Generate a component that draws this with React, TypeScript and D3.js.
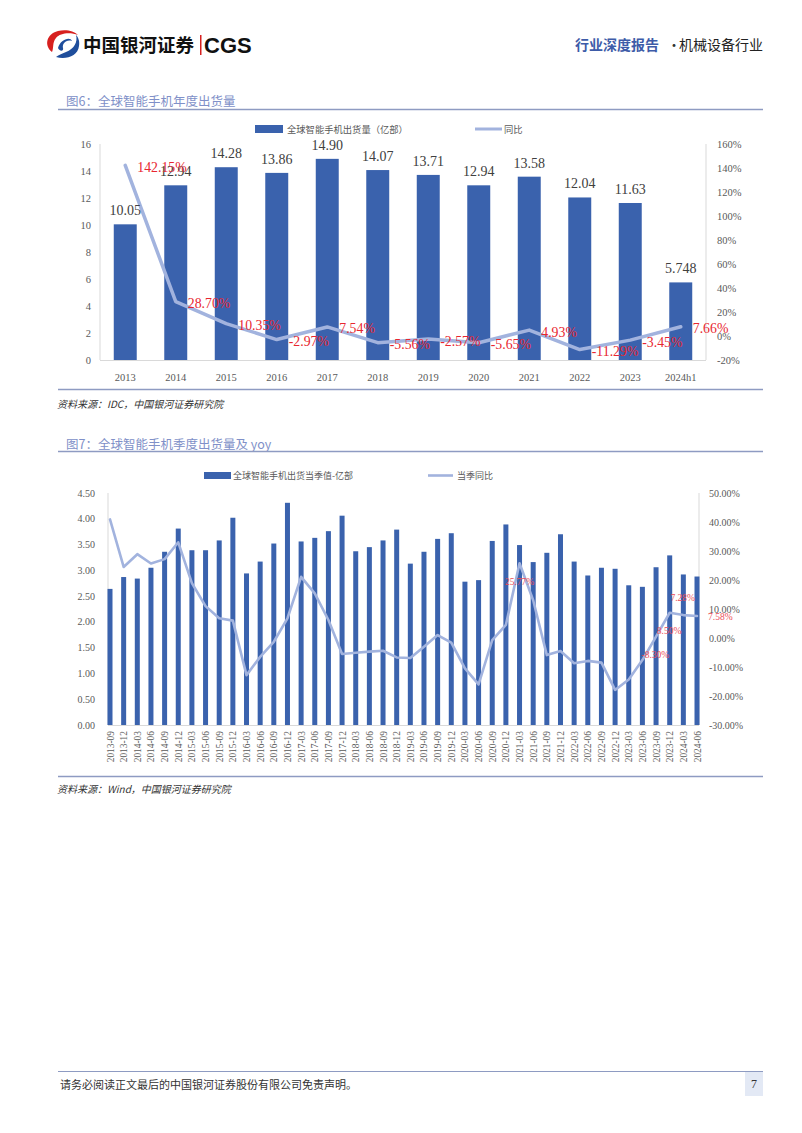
import React, { useEffect, useRef } from 'react';
import * as d3 from 'd3';

const years = ['2013', '2014', '2015', '2016', '2017', '2018', '2019', '2020', '2021', '2022', '2023', '2024h1'];
const annualShipments = [10.05, 12.94, 14.28, 13.86, 14.9, 14.07, 13.71, 12.94, 13.58, 12.04, 11.63, 5.748];
const annualShipmentLabels = ['10.05', '12.94', '14.28', '13.86', '14.90', '14.07', '13.71', '12.94', '13.58', '12.04', '11.63', '5.748'];
const annualYoY = [142.15, 28.7, 10.35, -2.97, 7.54, -5.56, -2.57, -5.65, 4.93, -11.29, -3.45, 7.66];
const annualYoYLabels = ['142.15%', '28.70%', '10.35%', '-2.97%', '7.54%', '-5.56%', '-2.57%', '-5.65%', '4.93%', '-11.29%', '-3.45%', '7.66%'];
const annualLeftTicks = [0, 2, 4, 6, 8, 10, 12, 14, 16];
const annualRightTicks = [-20, 0, 20, 40, 60, 80, 100, 120, 140, 160];

const quarters = [
  '2013-09', '2013-12',
  '2014-03', '2014-06', '2014-09', '2014-12',
  '2015-03', '2015-06', '2015-09', '2015-12',
  '2016-03', '2016-06', '2016-09', '2016-12',
  '2017-03', '2017-06', '2017-09', '2017-12',
  '2018-03', '2018-06', '2018-09', '2018-12',
  '2019-03', '2019-06', '2019-09', '2019-12',
  '2020-03', '2020-06', '2020-09', '2020-12',
  '2021-03', '2021-06', '2021-09', '2021-12',
  '2022-03', '2022-06', '2022-09', '2022-12',
  '2023-03', '2023-06', '2023-09', '2023-12',
  '2024-03', '2024-06',
];
const quarterlyShipments = [
  2.64, 2.87,
  2.84, 3.05, 3.36, 3.81,
  3.39, 3.39, 3.58, 4.02,
  2.94, 3.17, 3.52, 4.31,
  3.56, 3.63, 3.76, 4.06,
  3.37, 3.45, 3.58, 3.79,
  3.13, 3.36, 3.61, 3.72,
  2.78, 2.81, 3.57, 3.89,
  3.49, 3.16, 3.34, 3.70,
  3.17, 2.90, 3.05, 3.03,
  2.71, 2.68, 3.06, 3.29,
  2.92, 2.88,
];
const quarterlyYoY = [
  40.9, 24.5,
  28.9, 25.7, 27.2, 33.0,
  18.9, 11.0, 6.8, 6.0,
  -12.8, -6.5, -1.3, 6.8,
  21.1, 15.4, 6.2, -5.5,
  -5.1, -4.7, -4.4, -6.7,
  -6.9, -3.0, 1.0, -1.6,
  -10.5, -16.0, -0.7, 4.5,
  25.77, 13.0, -5.9, -4.5,
  -8.7, -7.9, -8.5, -17.9,
  -14.3, -7.6, 0.5, 8.7,
  7.9, 7.58,
];
const quarterlyLabelIndex = [30, 39, 40, 41, 43];
const quarterlyLabelText = ['25.77%', '-8.30%', '8.50%', '7.28%', '7.58%'];
const quarterlyLeftTicks = [0, 0.5, 1, 1.5, 2, 2.5, 3, 3.5, 4, 4.5];
const quarterlyRightTicks = [-30, -20, -10, 0, 10, 20, 30, 40, 50];

const BAR = '#3a62ad';
const LINE = '#a2b3de';
const RED = '#e8262f';
const AXIS_TEXT = '#595959';
const SERIF = '"Liberation Serif", "DejaVu Serif", serif';
const CJK = '"Noto Sans CJK SC", sans-serif';

type Sel = d3.Selection<SVGSVGElement, unknown, null, undefined>;

function drawHeader(svg: Sel) {
  const g = svg.append('g');
  g.append('path')
    .attr('d', 'M52,52 C44,46 46,34 58,31 C66,29 74,31 78,35 C70,32 60,33 56,38 C52,43 54,48 52,52 Z')
    .attr('fill', '#d7201f');
  g.append('path')
    .attr('d', 'M56,57 C66,60 78,56 79,46 C80,41 78,37 76,35 C78,42 74,49 66,52 C62,54 58,55 56,57 Z')
    .attr('fill', '#1f4e9c');
  g.append('path')
    .attr('d', 'M58,48 C60,40 70,36 72,41 C66,39 62,44 63,48 C64,51 60,52 58,48 Z')
    .attr('fill', '#1f4e9c');
  g.append('text').attr('x', 83).attr('y', 52).attr('font-family', CJK).attr('font-weight', 700)
    .attr('font-size', 18.5).attr('fill', '#111').text('中国银河证券');
  g.append('rect').attr('x', 200).attr('y', 35).attr('width', 1.5).attr('height', 20).attr('fill', '#d7201f');
  g.append('text').attr('x', 204).attr('y', 53).attr('font-family', '"Liberation Sans", Arial, sans-serif')
    .attr('font-weight', 700).attr('font-size', 22).attr('fill', '#111').text('CGS');
  g.append('text').attr('x', 575).attr('y', 50).attr('font-family', CJK).attr('font-weight', 700)
    .attr('font-size', 14).attr('fill', '#3d5ba8').text('行业深度报告');
  g.append('text').attr('x', 667).attr('y', 50).attr('font-family', CJK)
    .attr('font-size', 14).attr('fill', '#333').text('·');
  g.append('text').attr('x', 679).attr('y', 50).attr('font-family', CJK)
    .attr('font-size', 14).attr('fill', '#222').text('机械设备行业');
}

function drawAnnual(svg: Sel) {
  const g = svg.append('g');
  g.append('text').attr('x', 66).attr('y', 100).attr('dominant-baseline', 'central')
    .attr('font-family', CJK).attr('font-size', 12.5).attr('fill', '#8090c8').text('图6：全球智能手机年度出货量');
  g.append('line').attr('x1', 58).attr('x2', 763).attr('y1', 109.5).attr('y2', 109.5).attr('stroke', '#8e9bc2').attr('stroke-width', 1.5);
  g.append('line').attr('x1', 58).attr('x2', 763).attr('y1', 389.5).attr('y2', 389.5).attr('stroke', '#8e9bc2').attr('stroke-width', 1.5);
  g.append('text').attr('x', 57).attr('y', 403).attr('dominant-baseline', 'central')
    .attr('font-family', CJK).attr('font-style', 'italic').attr('font-size', 10).attr('fill', '#333')
    .text('资料来源：IDC，中国银河证券研究院');

  const left = 100, right = 706, top = 144, bottom = 360;
  const x = d3.scaleBand<string>().domain(years).range([left, right]).paddingInner(0.545).paddingOuter(0.2725);
  const yL = d3.scaleLinear().domain([0, 16]).range([bottom, top]);
  const yR = d3.scaleLinear().domain([-20, 160]).range([bottom, top]);
  const cx = (i: number) => (x(years[i]) as number) + x.bandwidth() / 2;

  g.append('line').attr('x1', left).attr('x2', left).attr('y1', top).attr('y2', bottom).attr('stroke', '#d9d9d9');
  g.append('line').attr('x1', right).attr('x2', right).attr('y1', top).attr('y2', bottom).attr('stroke', '#d9d9d9');

  g.selectAll('.lt').data(annualLeftTicks).enter().append('text')
    .attr('x', 91).attr('y', (d) => yL(d)).attr('dominant-baseline', 'central').attr('text-anchor', 'end')
    .attr('font-family', SERIF).attr('font-size', 10.5).attr('fill', AXIS_TEXT).text((d) => String(d));
  g.selectAll('.rt').data(annualRightTicks).enter().append('text')
    .attr('x', 717).attr('y', (d) => yR(d)).attr('dominant-baseline', 'central')
    .attr('font-family', SERIF).attr('font-size', 10.5).attr('fill', AXIS_TEXT).text((d) => `${d}%`);
  g.selectAll('.xt').data(years).enter().append('text')
    .attr('x', (d, i) => cx(i)).attr('y', 377).attr('dominant-baseline', 'central').attr('text-anchor', 'middle')
    .attr('font-family', SERIF).attr('font-size', 10.5).attr('fill', AXIS_TEXT).text((d) => d);

  g.selectAll('.bar').data(annualShipments).enter().append('rect')
    .attr('x', (d, i) => x(years[i]) as number).attr('width', x.bandwidth())
    .attr('y', (d) => yL(d)).attr('height', (d) => bottom - yL(d)).attr('fill', BAR);
  g.append('line').attr('x1', left).attr('x2', right).attr('y1', bottom + 0.5).attr('y2', bottom + 0.5).attr('stroke', '#d9d9d9');

  const line = d3.line<number>().x((d, i) => cx(i)).y((d) => yR(d));
  g.append('path').attr('d', line(annualYoY) as string).attr('fill', 'none').attr('stroke', LINE)
    .attr('stroke-width', 3.5).attr('stroke-linejoin', 'round').attr('stroke-linecap', 'round');

  g.selectAll('.vl').data(annualShipmentLabels).enter().append('text')
    .attr('x', (d, i) => cx(i)).attr('y', (d, i) => yL(annualShipments[i]) - 9).attr('text-anchor', 'middle')
    .attr('font-family', SERIF).attr('font-size', 14).attr('fill', '#404040').text((d) => d);
  g.selectAll('.pl').data(annualYoYLabels).enter().append('text')
    .attr('x', (d, i) => cx(i) + 12).attr('y', (d, i) => yR(annualYoY[i]) + 2).attr('dominant-baseline', 'central')
    .attr('font-family', SERIF).attr('font-size', 13.8).attr('fill', RED).text((d) => d);

  g.append('rect').attr('x', 255).attr('y', 125).attr('width', 28).attr('height', 8).attr('fill', BAR);
  g.append('text').attr('x', 287).attr('y', 129).attr('dominant-baseline', 'central')
    .attr('font-family', CJK).attr('font-size', 9.3).attr('fill', AXIS_TEXT).text('全球智能手机出货量（亿部）');
  g.append('line').attr('x1', 475).attr('x2', 502).attr('y1', 129).attr('y2', 129).attr('stroke', LINE).attr('stroke-width', 3);
  g.append('text').attr('x', 504).attr('y', 129).attr('dominant-baseline', 'central')
    .attr('font-family', CJK).attr('font-size', 9.3).attr('fill', AXIS_TEXT).text('同比');
}

function drawQuarterly(svg: Sel) {
  const g = svg.append('g');
  g.append('text').attr('x', 66).attr('y', 443).attr('dominant-baseline', 'central')
    .attr('font-family', CJK).attr('font-size', 12.5).attr('fill', '#8090c8').text('图7：全球智能手机季度出货量及 yoy');
  g.append('line').attr('x1', 58).attr('x2', 763).attr('y1', 451.5).attr('y2', 451.5).attr('stroke', '#8e9bc2').attr('stroke-width', 1.5);
  g.append('line').attr('x1', 58).attr('x2', 763).attr('y1', 776.5).attr('y2', 776.5).attr('stroke', '#8e9bc2').attr('stroke-width', 1.5);
  g.append('text').attr('x', 57).attr('y', 788).attr('dominant-baseline', 'central')
    .attr('font-family', CJK).attr('font-style', 'italic').attr('font-size', 10).attr('fill', '#333')
    .text('资料来源：Wind，中国银河证券研究院');

  const left = 110, right = 697, top = 493, bottom = 725;
  const x = d3.scalePoint<string>().domain(quarters).range([left, right]);
  const yL = d3.scaleLinear().domain([0, 4.5]).range([bottom, top]);
  const yR = d3.scaleLinear().domain([-30, 50]).range([bottom, top]);
  const bw = 5;

  g.append('line').attr('x1', left - 2).attr('x2', left - 2).attr('y1', top).attr('y2', bottom).attr('stroke', '#d9d9d9');
  g.append('line').attr('x1', right + 2).attr('x2', right + 2).attr('y1', top).attr('y2', bottom).attr('stroke', '#d9d9d9');

  g.selectAll('.lt').data(quarterlyLeftTicks).enter().append('text')
    .attr('x', 95).attr('y', (d) => yL(d)).attr('dominant-baseline', 'central').attr('text-anchor', 'end')
    .attr('font-family', SERIF).attr('font-size', 10).attr('fill', AXIS_TEXT).text((d) => d.toFixed(2));
  g.selectAll('.rt').data(quarterlyRightTicks).enter().append('text')
    .attr('x', 709).attr('y', (d) => yR(d)).attr('dominant-baseline', 'central')
    .attr('font-family', SERIF).attr('font-size', 10).attr('fill', AXIS_TEXT).text((d) => `${d.toFixed(2)}%`);
  g.selectAll('.xt').data(quarters).enter().append('text')
    .attr('transform', (d) => `translate(${(x(d) as number) + 3.5},731) rotate(-90)`)
    .attr('text-anchor', 'end')
    .attr('font-family', SERIF).attr('font-size', 9.4).attr('fill', AXIS_TEXT).text((d) => d);

  g.selectAll('.bar').data(quarterlyShipments).enter().append('rect')
    .attr('x', (d, i) => (x(quarters[i]) as number) - bw / 2).attr('width', bw)
    .attr('y', (d) => yL(d)).attr('height', (d) => bottom - yL(d)).attr('fill', BAR);
  g.append('line').attr('x1', left - 2).attr('x2', right + 2).attr('y1', bottom + 0.5).attr('y2', bottom + 0.5).attr('stroke', '#d9d9d9');

  const line = d3.line<number>().x((d, i) => x(quarters[i]) as number).y((d) => yR(d));
  g.append('path').attr('d', line(quarterlyYoY) as string).attr('fill', 'none').attr('stroke', LINE)
    .attr('stroke-width', 2.6).attr('stroke-linejoin', 'round').attr('stroke-linecap', 'round');

  const labelDx = (d: number) => (d === 43 ? 11 : d === 30 ? 0 : 13);
  const labelDy = (d: number) => (d === 30 ? 19 : d === 43 ? 1 : d === 41 ? -15 : d === 40 ? -6 : -5);
  g.selectAll('.pl').data(quarterlyLabelIndex).enter().append('text')
    .attr('x', (d) => (x(quarters[d]) as number) + labelDx(d))
    .attr('y', (d) => yR(quarterlyYoY[d]) + labelDy(d))
    .attr('text-anchor', (d) => (d === 43 ? 'start' : 'middle'))
    .attr('dominant-baseline', 'central')
    .attr('font-family', SERIF).attr('font-size', 9.5).attr('fill', '#ec4d57')
    .text((d, i) => quarterlyLabelText[i]);

  g.append('rect').attr('x', 204).attr('y', 472).attr('width', 27).attr('height', 7).attr('fill', BAR);
  g.append('text').attr('x', 233).attr('y', 475.5).attr('dominant-baseline', 'central')
    .attr('font-family', CJK).attr('font-size', 9).attr('fill', AXIS_TEXT).text('全球智能手机出货当季值-亿部');
  g.append('line').attr('x1', 428).attr('x2', 453).attr('y1', 475.5).attr('y2', 475.5).attr('stroke', LINE).attr('stroke-width', 2.6);
  g.append('text').attr('x', 457).attr('y', 475.5).attr('dominant-baseline', 'central')
    .attr('font-family', CJK).attr('font-size', 9).attr('fill', AXIS_TEXT).text('当季同比');
}

function drawFooter(svg: Sel) {
  const g = svg.append('g');
  g.append('line').attr('x1', 58).attr('x2', 763).attr('y1', 1071.5).attr('y2', 1071.5).attr('stroke', '#8e9bc2').attr('stroke-width', 1);
  g.append('text').attr('x', 60).attr('y', 1084).attr('dominant-baseline', 'central')
    .attr('font-family', CJK).attr('font-size', 11).attr('fill', '#333')
    .text('请务必阅读正文最后的中国银河证券股份有限公司免责声明。');
  g.append('rect').attr('x', 745).attr('y', 1072).attr('width', 18).attr('height', 24).attr('fill', '#e3e9f5');
  g.append('text').attr('x', 754).attr('y', 1084).attr('dominant-baseline', 'central').attr('text-anchor', 'middle')
    .attr('font-family', SERIF).attr('font-size', 12).attr('fill', '#333').text('7');
}

export default function App() {
  const ref = useRef<SVGSVGElement>(null);
  useEffect(() => {
    if (!ref.current) return;
    const svg = d3.select(ref.current) as Sel;
    svg.selectAll('*').remove();
    drawHeader(svg);
    drawAnnual(svg);
    drawQuarterly(svg);
    drawFooter(svg);
  }, []);
  return (
    <svg ref={ref} width={802} height={1133}
      style={{ position: 'absolute', left: 0, top: 0, background: '#fff', display: 'block' }} />
  );
}
